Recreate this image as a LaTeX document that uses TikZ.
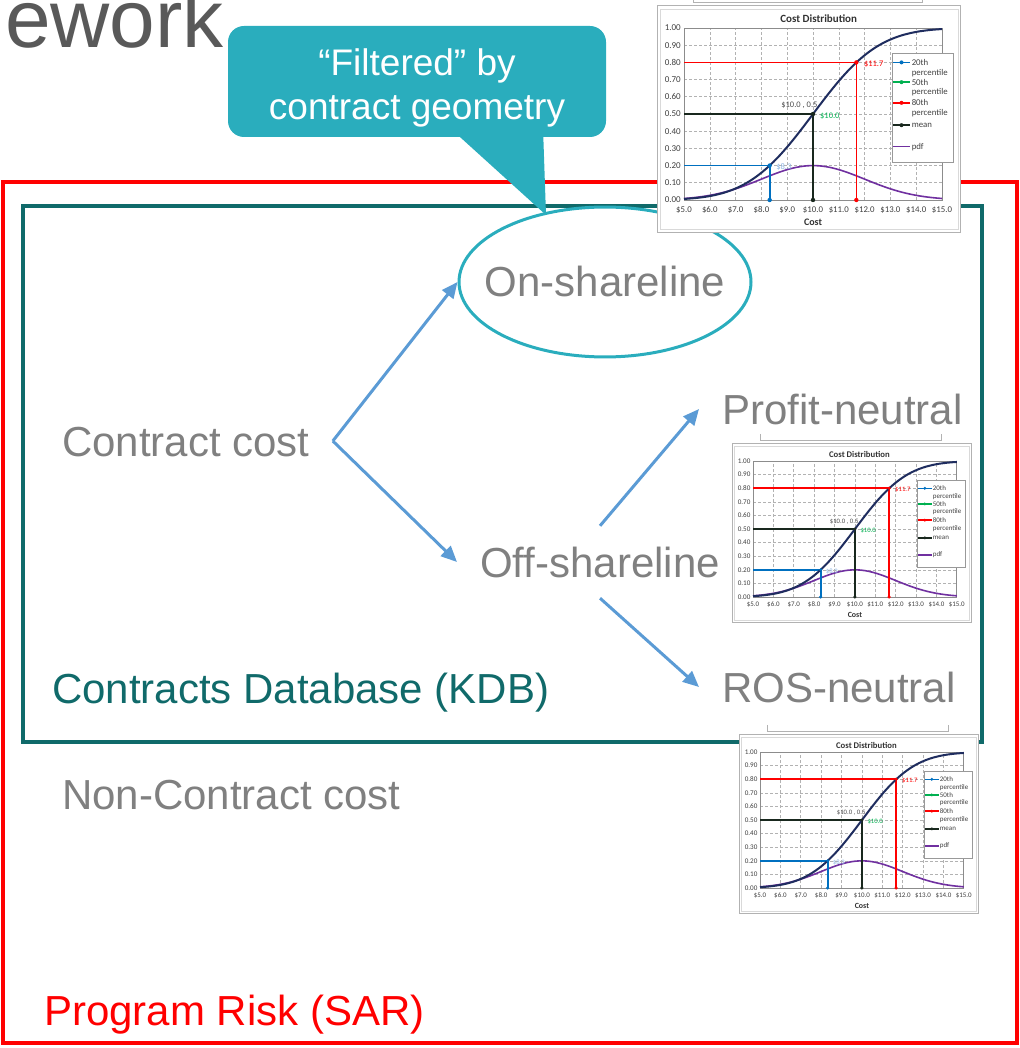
\documentclass[tikz,border=0pt]{standalone}
\usepackage{fontspec}
\setmainfont{Liberation Sans}
\newfontfamily\chartfont{Carlito}
\usepackage{tikz}
\usetikzlibrary{arrows.meta,shapes.geometric}
\pgfdeclarelayer{background}
\pgfdeclarelayer{foreground}
\pgfsetlayers{background,main,foreground}

\definecolor{txtgray}{RGB}{128,128,128}
\definecolor{ttlgray}{RGB}{89,89,89}
\definecolor{kdbteal}{RGB}{16,106,106}
\definecolor{callcyan}{RGB}{42,173,189}
\definecolor{flowblue}{RGB}{91,155,213}
\definecolor{sarred}{RGB}{255,0,0}
\definecolor{cdfnavy}{RGB}{31,45,95}
\definecolor{pctblue}{RGB}{0,112,192}
\definecolor{pctgreen}{RGB}{0,176,80}
\definecolor{pctred}{RGB}{255,0,0}
\definecolor{meanblk}{RGB}{25,40,30}
\definecolor{pdfpurple}{RGB}{112,48,160}
\definecolor{lblblue}{RGB}{141,180,226}

\tikzset{
  lbl/.style={font=\fontsize{42}{50}\selectfont, text=txtgray, inner xsep=23pt, inner ysep=21pt, text height=30pt, text depth=0pt, anchor=base west},
  onell/.style={ellipse, draw=callcyan, line width=3pt, inner xsep=-17pt, inner ysep=38pt, font=\fontsize{42}{50}\selectfont, text=txtgray, text height=30pt, text depth=0pt},
  calltext/.style={inner sep=0pt, text=white, align=center, font=\fontsize{37}{44}\selectfont},
  flow/.style={draw=flowblue, line width=3pt, -{Triangle[length=16pt,width=14pt]}},
  chartfrm/.style={draw=black!30, line width=1pt},
  chartgrid/.style={draw=black!30, line width=0.6pt, dash pattern=on 3pt off 2pt},
  ytick/.style={font=\chartfont\fontsize{9}{10}\selectfont, text=black!75, anchor=east, inner sep=1pt},
  xtick/.style={font=\chartfont\fontsize{8.8}{10}\selectfont, text=black!75, anchor=north, inner sep=1pt},
  lgd/.style={font=\chartfont\fontsize{8.8}{10}\selectfont, text=black!75, anchor=west, inner sep=0.5pt},
  ptlbl/.style={font=\chartfont\fontsize{8.5}{10}\selectfont, inner sep=0.5pt},
  costchart/.pic={
    \begin{scope}[x=25.8pt,y=172pt]
    \fill[white] (-1.02,-0.19) rectangle (10.72,1.2);
    \draw[chartfrm] (-1.02,-0.19) rectangle (10.72,1.13);
    \draw[chartfrm, draw=black!15] (-0.92,-0.17) rectangle (10.62,1.11);
    \draw[chartfrm] (0.35,1.2) -- (0.35,1.15) -- (9.26,1.15) -- (9.26,1.2);
    \foreach \i in {1,...,9} {
      \draw[chartgrid] (\i,0) -- (\i,1);
      \draw[chartgrid] (0,\i/10) -- (10,\i/10);
    }
    \draw[black!45, line width=0.8pt] (0,0) rectangle (10,1);
    \foreach \j in {0,...,10}
      \node[ytick] (yt\j) at (-0.08,\j/10) {\ifnum\j=10 1.00\else 0.\j0\fi};
    \foreach \i in {5,...,15}
      \node[xtick] (xt\i) at (\i-5,-0.03) {\$\i.0};
    \node[font=\chartfont\bfseries\fontsize{10}{12}\selectfont, text=black!80, inner sep=0pt] (cst) at (5,-0.13) {Cost};
    \node[font=\chartfont\bfseries\fontsize{11}{13}\selectfont, text=black!80, inner sep=0pt] (ttl) at (5.22,1.052) {Cost Distribution};
    \draw[pdfpurple, line width=1.6pt] plot[domain=0:10, samples=50, smooth] (\x,{0.2*exp(-((\x-5)*(\x-5))/8)});
    \draw[pctblue, line width=1.7pt] (0,0.2) -- (3.32,0.2) -- (3.32,0);
    \draw[pctred, line width=1.7pt] (0,0.8) -- (6.68,0.8) -- (6.68,0);
    \draw[meanblk, line width=1.7pt] (0,0.5) -- (5,0.5) -- (5,0);
    \draw[cdfnavy, line width=2pt] plot[domain=0:10, samples=60, smooth] (\x,{1/(1+exp(-(0.07056*pow((\x-5)/2,3)+1.5976*(\x-5)/2)))});
    \fill[pctblue] (3.32,0.2) circle[radius=2.2pt] (3.32,0) circle[radius=2.2pt];
    \fill[pctred] (6.68,0.8) circle[radius=2.2pt] (6.68,0) circle[radius=2.2pt];
    \fill[meanblk] (5,0.5) circle[radius=2.2pt] (5,0) circle[radius=2.2pt];
    \node[ptlbl, text=lblblue, anchor=west] (p20) at (3.55,0.19) {\$8.3};
    \node[ptlbl, text=black!70, anchor=south east] (pmn) at (5.2,0.53) {\$10.0 , 0.5};
    \node[ptlbl, text=pctgreen, anchor=west] (p50) at (5.25,0.49) {\$10.0};
    \node[ptlbl, text=pctred, anchor=west] (p80) at (6.95,0.79) {\$11.7};
    \draw[fill=white, draw=black!40, line width=0.8pt] (8.06,0.22) rectangle (10.43,0.855);
    \foreach \lcol/\lval/\ltxt [count=\k] in {pctblue/0.80/20th,pctgreen/0.685/50th,pctred/0.565/80th} {
      \draw[\lcol, line width=1.5pt] (8.1,\lval) -- (8.76,\lval);
      \fill[\lcol] (8.43,\lval) circle[radius=2pt];
      \node[lgd] (lg\k) at (8.8,\lval) {\ltxt};
      \node[lgd] (lp\k) at (8.8,\lval-0.06) {percentile};
    }
    \draw[meanblk, line width=1.5pt] (8.1,0.435) -- (8.76,0.435);
    \fill[meanblk] (8.43,0.435) circle[radius=2pt];
    \node[lgd] (lmn) at (8.8,0.435) {mean};
    \draw[pdfpurple, line width=1.5pt] (8.1,0.31) -- (8.76,0.31);
    \node[lgd] (lpd) at (8.8,0.31) {pdf};
    \end{scope}
  }
}

\begin{document}
\begin{tikzpicture}[x=1pt,y=-1pt]
\useasboundingbox (0,0) rectangle (1019,1048);
\begin{pgfonlayer}{background}
\draw[sarred, line width=3.3pt] (3,182) rectangle (1017,1043);
\draw[kdbteal, line width=3.2pt] (23,206) rectangle (982,742);
\end{pgfonlayer}
\node[font=\fontsize{82}{94}\selectfont, text=ttlgray, anchor=base west, inner sep=0pt] (ttl) at (5,48) {ework};
\node[lbl] (cc) at (39,456) {Contract cost};
\node[onell] (on) at (605,282) {On-shareline};
\node[lbl] (off) at (457,577) {Off-shareline};
\node[lbl] (pn) at (699,424) {Profit-neutral};
\node[lbl] (ros) at (699,702) {ROS-neutral};
\node[lbl, text=kdbteal] (kdb) at (29,703) {Contracts Database (KDB)};
\node[lbl] (ncc) at (39,809) {Non-Contract cost};
\node[lbl, text=sarred] (sar) at (21,1025) {Program Risk (SAR)};
\draw[flow] (cc.east) -- (on.west);
\draw[flow] (cc.east) -- (off.west);
\draw[flow] (off.north) -- (pn.west);
\draw[flow] (off.south) -- (ros.west);
\begin{pgfonlayer}{foreground}
\coordinate (tip) at (546,215);
\fill[callcyan, rounded corners=16pt] (228,26) rectangle (606,137);
\fill[callcyan] (450,128) -- (tip) -- (543,128) -- cycle;
\node[calltext] (flt) at (417,87.5) {“Filtered” by\\contract geometry};
\pic (chA) at (684,200) {costchart};
\pic[scale=0.79, transform shape] (chB) at (753,597) {costchart};
\pic[scale=0.79, transform shape] (chC) at (760,888) {costchart};
\end{pgfonlayer}
\end{tikzpicture}
\end{document}
